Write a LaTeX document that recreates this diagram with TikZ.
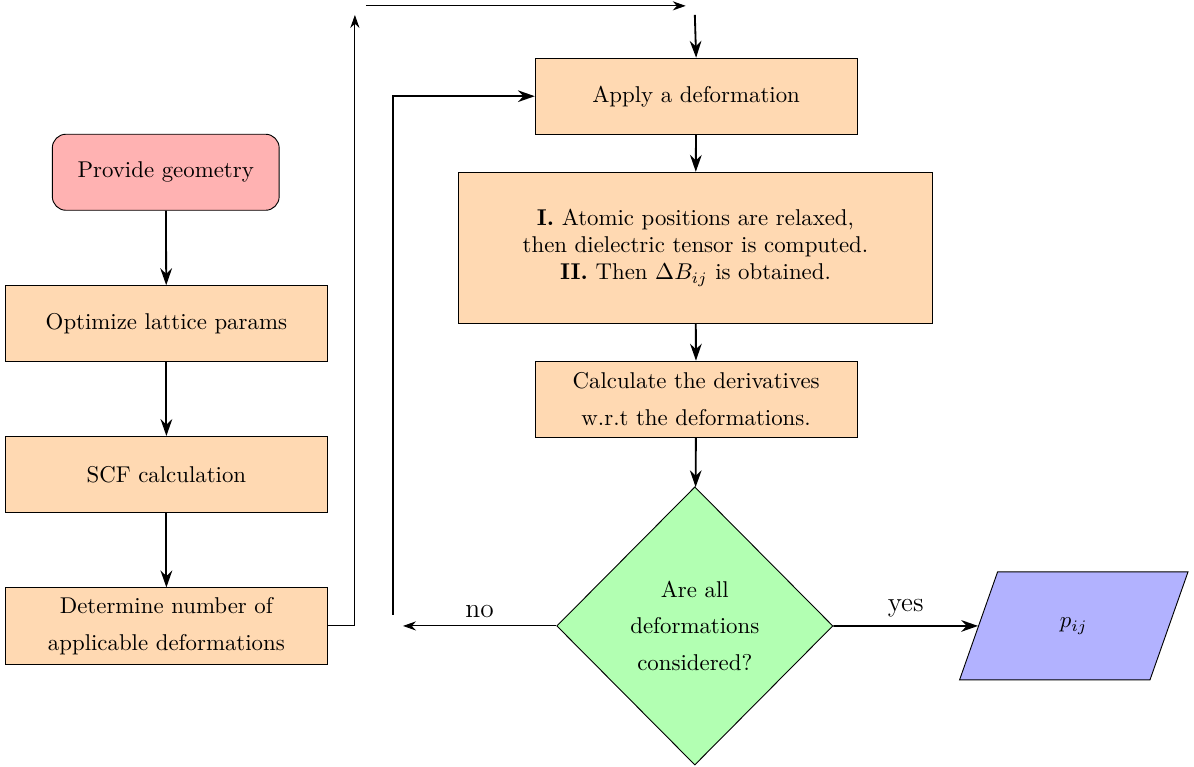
\documentclass[tikz,border=0pt]{standalone}
\usepackage{amsmath,amssymb}
\usetikzlibrary{arrows.meta,shapes.geometric,positioning,calc}

\begin{document}
\begin{tikzpicture}[
    startbox/.style={draw, rounded corners=6pt, fill=red!30, minimum width=3.49cm, minimum height=1.17cm, align=center},
    procbox/.style={draw, fill=orange!30, minimum width=4.95cm, minimum height=1.17cm, align=center},
    decide/.style={draw, diamond, aspect=1, fill=green!30, minimum width=4.25cm, minimum height=4.28cm, align=center, inner sep=0pt},
    outbox/.style={draw, trapezium, trapezium left angle=70.6, trapezium right angle=109.4, fill=blue!30, inner xsep=0.96cm, inner ysep=0.705cm},
    arr/.style={-{Stealth[length=2.6mm,width=1.8mm]}, thick},
    thinarr/.style={-{Stealth[length=2mm,width=1.4mm]}}
]
\useasboundingbox (0,0) rectangle (18.37,-11.8);

% left column
\node[startbox] (geom) at (2.55,-2.65) {Provide geometry};
\node[procbox] (lattice) at (2.56,-4.98) {Optimize lattice params};
\node[procbox] (scf) at (2.56,-7.30) {SCF calculation};
\node[procbox] (count) at (2.56,-9.63) {Determine number of\\[4pt] applicable deformations};

% right column
\node[procbox] (deform) at (10.71,-1.48) {Apply a deformation};
\node[procbox, minimum width=7.28cm, minimum height=2.32cm] (relax) at (10.70,-3.81)
    {\textbf{I.} Atomic positions are relaxed,\\ then dielectric tensor is computed.\\ \textbf{II.} Then $\Delta B_{ij}$ is obtained.};
\node[procbox] (deriv) at (10.71,-6.14) {Calculate the derivatives\\[4pt] w.r.t the deformations.};
\node[decide] (done) at (10.69,-9.63) {Are all\\[4pt] deformations\\[4pt] considered?};
\node[outbox] (result) at (16.52,-9.63) {$p_{ij}$};

% free ends
\coordinate (upend) at (5.46,-0.23);
\coordinate (topL) at (5.63,-0.09);
\coordinate (topR) at (10.55,-0.09);
\coordinate (dropin) at (10.69,-0.23);
\coordinate (noend) at (6.2,-9.63);
\coordinate (loopstart) at (6.05,-9.46);

\draw[arr] (geom) -- (lattice);
\draw[arr] (lattice) -- (scf);
\draw[arr] (scf) -- (count);
\draw[thinarr] (count.east) -| (upend);
\draw[thinarr] (topL) -- (topR);
\draw[arr] (dropin) -- (deform.north);
\draw[arr] (deform) -- (relax);
\draw[arr] (relax) -- (deriv);
\draw[arr] (deriv) -- (done);
\draw[thinarr] (done.west) -- node[above, font=\large] {no} (noend);
\draw[arr] (loopstart) |- (deform.west);
\draw[arr] (done.east) -- node[above, font=\large] {yes} (result.west);
\end{tikzpicture}
\end{document}
